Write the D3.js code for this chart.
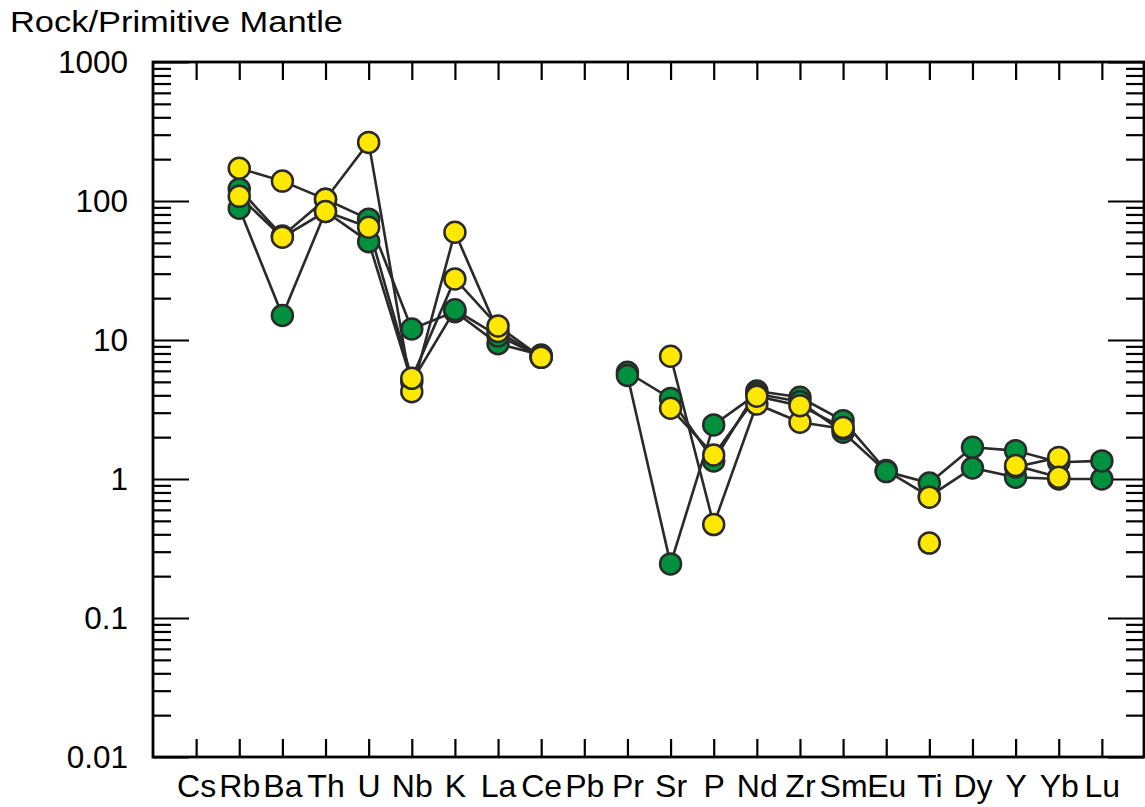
<!DOCTYPE html>
<html>
<head>
<meta charset="utf-8">
<script src="https://cdn.jsdelivr.net/npm/d3@7"></script>
<style>
  body { margin: 0; background: #fff; }
  text { font-family: "Liberation Sans", Arial, sans-serif; fill: #000; }
</style>
</head>
<body>
<figure id="spider" style="margin:0"></figure>
<script>
// element order along the x axis
var elements = ["Cs", "Rb", "Ba", "Th", "U", "Nb", "K", "La", "Ce", "Pb", "Pr",
                "Sr", "P", "Nd", "Zr", "Sm", "Eu", "Ti", "Dy", "Y", "Yb", "Lu"];

// rock / primitive mantle, null = not analysed
var greenA = [null, 122, 56, 103, 74, 12, 16, 9.4, 7.8, null, 5.86,
              3.8, 1.35, 4.3, 3.87, 2.63, 1.15, 0.75, 1.2, 1.03, 1.0, 1.0];
var greenB = [null, 88.6, 15, 84, 51, 5.0, 16.5, 10.7, 7.6, null, 5.55,
              0.245, 2.45, 4.1, 3.6, 2.17, 1.13, 0.936, 1.69, 1.6, 1.32, 1.35];
var yellowA = [null, 172, 139, 103, 264, 4.25, 59.6, 11.5, 7.5, null, null,
               7.64, 0.47, 3.46, 2.56, 2.3, null, 0.346, null, 1.22, 1.43, null];
var yellowB = [null, 108, 54.8, 84, 64.7, 5.3, 27.5, 12.6, 7.5, null, null,
               3.23, 1.49, 3.94, 3.37, 2.35, null, 0.74, null, 1.25, 1.03, null];

var yMajor = [0.01, 0.1, 1, 10, 100, 1000];
var yMajorLabels = ["0.01", "0.1", "1", "10", "100", "1000"];

var seriesList = [
  {values: greenA, fill: "#00913f"},
  {values: greenB, fill: "#00913f"},
  {values: yellowA, fill: "#ffe800"},
  {values: yellowB, fill: "#ffe800"}
];

// minor ticks 2..9 in every decade
var yMinor = [];
yMajor.slice(0, -1).forEach(function(d) {
  for (var k = 2; k <= 9; k++) yMinor.push(d * k);
});

var margin = {top: 62, right: 1, bottom: 50, left: 153},
    width = 1145 - margin.left - margin.right,
    height = 807 - margin.top - margin.bottom;

var svg = d3.select("figure#spider")
  .append("svg")
    .attr("width", 1145)
    .attr("height", 807)
  .append("g")
    .attr("transform", "translate(" + margin.left + "," + margin.top + ")");

var x = d3.scaleLinear()
  .domain([-1, elements.length])
  .range([0, width + 1]);

var y = d3.scaleLog()
  .domain([0.01, 1000])
  .range([height, 0]);

// title
svg.append("text")
  .attr("x", 10 - margin.left)
  .attr("y", 32 - margin.top)
  .attr("font-size", 29)
  .attr("textLength", 333)
  .attr("lengthAdjust", "spacingAndGlyphs")
  .text("Rock/Primitive Mantle");

function styleAxis(g) {
  g.select(".domain").remove();
  g.selectAll(".tick line").attr("stroke", "#000").attr("stroke-width", 2.2);
}

// left axis: majors with labels, minors
svg.append("g")
  .call(d3.axisLeft(y).tickValues(yMajor)
    .tickFormat(function(d, i) { return yMajorLabels[i]; })
    .tickSize(-36).tickPadding(25))
  .call(styleAxis)
  .selectAll("text").attr("font-size", 31.5).attr("font-family", "Liberation Sans, Arial, sans-serif");

svg.append("g")
  .call(d3.axisLeft(y).tickValues(yMinor).tickFormat("").tickSize(-18))
  .call(styleAxis);

// right axis
svg.append("g")
  .attr("transform", "translate(" + width + ",0)")
  .call(d3.axisRight(y).tickValues(yMajor).tickFormat("").tickSize(-36))
  .call(styleAxis);

svg.append("g")
  .attr("transform", "translate(" + width + ",0)")
  .call(d3.axisRight(y).tickValues(yMinor).tickFormat("").tickSize(-18))
  .call(styleAxis);

// bottom + top axes
svg.append("g")
  .attr("transform", "translate(0," + height + ")")
  .call(d3.axisBottom(x).tickValues(d3.range(elements.length))
    .tickFormat(function(i) { return elements[i]; })
    .tickSize(-18).tickPadding(17))
  .call(styleAxis)
  .selectAll("text").attr("font-size", 32).attr("font-family", "Liberation Sans, Arial, sans-serif");

svg.append("g")
  .call(d3.axisTop(x).tickValues(d3.range(elements.length))
    .tickFormat("").tickSize(-18))
  .call(styleAxis);

// frame
svg.append("rect")
  .attr("width", width)
  .attr("height", height)
  .attr("fill", "none")
  .attr("stroke", "#000")
  .attr("stroke-width", 2.8);

// lines first, so every circle sits on top
var line = d3.line()
  .defined(function(d) { return d != null; })
  .x(function(d, i) { return x(i); })
  .y(function(d) { return y(d); });

seriesList.forEach(function(s) {
  svg.append("path")
    .datum(s.values)
    .attr("fill", "none")
    .attr("stroke", "#2a2a2a")
    .attr("stroke-width", 2.6)
    .attr("d", line);
});

seriesList.forEach(function(s) {
  svg.append("g")
    .selectAll("circle")
    .data(s.values.map(function(v, i) { return {i: i, v: v}; })
      .filter(function(d) { return d.v != null; }))
    .enter()
    .append("circle")
      .attr("cx", function(d) { return x(d.i); })
      .attr("cy", function(d) { return y(d.v); })
      .attr("r", 10.5)
      .attr("fill", s.fill)
      .attr("stroke", "#2a2a2a")
      .attr("stroke-width", 2.5);
});
</script>
</body>
</html>
